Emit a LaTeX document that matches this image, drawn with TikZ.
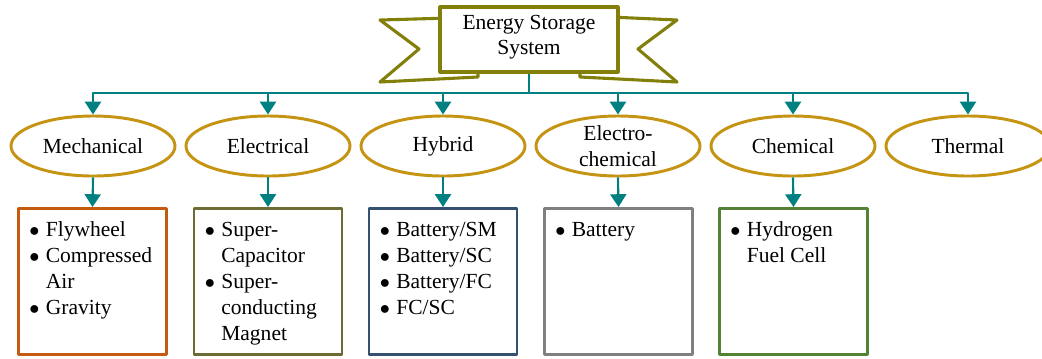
\documentclass[tikz,border=0pt]{standalone}
\usepackage{fontspec}
\setmainfont{Liberation Serif}
\usepackage{tikz}
\usetikzlibrary{arrows.meta, shapes.geometric}

\definecolor{bannerOl}{RGB}{130,128,10}
\definecolor{catGold}{RGB}{196,148,18}
\definecolor{linkTeal}{RGB}{0,128,128}
\definecolor{mechCol}{RGB}{197,90,17}
\definecolor{elecCol}{RGB}{108,108,52}
\definecolor{hybCol}{RGB}{52,82,112}
\definecolor{echemCol}{RGB}{128,128,128}
\definecolor{chemCol}{RGB}{84,130,53}

\newcommand{\bul}{$\bullet$}

\begin{document}
\begin{tikzpicture}[x=0.025cm, y=-0.025cm, line join=round,
    >={Triangle[width=0.4cm, length=0.32cm]},
    font=\fontsize{15.3}{18.4}\selectfont,
    banner/.style={draw=bannerOl, line width=2.2pt, fill=white},
    cat/.style={ellipse, draw=catGold, line width=2.1pt, minimum width=4.1cm,
      minimum height=1.5cm, inner sep=0pt, align=center},
    listbox/.style={draw, line width=2.1pt, anchor=north, inner xsep=0.27cm, inner ysep=0.25cm},
    link/.style={->, draw=linkTeal, line width=1.5pt}]

  % Page frame (reference size in px)
  \useasboundingbox (0,0) rectangle (1042,358);

  % Banner tails (drawn first, title box goes on top)
  \draw[banner] (380,20) -- (450,18) -- (450,72) -- (478,72) -- (478,77)
    -- (380,82) -- (419,49) -- cycle;
  \draw[banner] (677,20) -- (610,17) -- (610,72) -- (580,72) -- (580,77)
    -- (677,82) -- (638,49) -- cycle;

  % Title
  \node[banner, minimum width=4.45cm, minimum height=1.625cm, inner sep=0pt,
    align=center, text depth=0.23cm] (ess) at (529,39.5) {Energy Storage\\System};

  % Categories
  \node[cat] (mech)  at (93,146)  {Mechanical};
  \node[cat] (elec)  at (268,146) {Electrical};
  \node[cat] (hyb)   at (443,146) {Hybrid};
  \node[cat] (echem) at (618,146) {Electro-\\chemical};
  \node[cat] (chem)  at (793,146) {Chemical};
  \node[cat] (therm) at (968,146) {Thermal};

  % Bus from the title to every category
  \coordinate (bus) at (529,93);
  \draw[draw=linkTeal, line width=1.5pt] (ess.south) -- (bus);
  \foreach \nm in {mech,elec,hyb,echem,chem,therm}
    \draw[link] (bus) -| (\nm.north);

  % Examples of each category
  \node[listbox, draw=mechCol] (mechbox) at (92.5,207) {\parbox[t][3.15cm][t]{3.16cm}{%
    \begin{tabular}[t]{@{}l@{\hspace{0.16cm}}l@{}}
      \bul & Flywheel\\
      \bul & Compressed\\
           & Air\\
      \bul & Gravity
    \end{tabular}}};
  \node[listbox, draw=elecCol] (elecbox) at (268,207) {\parbox[t][3.15cm][t]{3.16cm}{%
    \begin{tabular}[t]{@{}l@{\hspace{0.16cm}}l@{}}
      \bul & Super-\\
           & Capacitor\\
      \bul & Super-\\
           & conducting\\
           & Magnet
    \end{tabular}}};
  \node[listbox, draw=hybCol] (hybbox) at (443,207) {\parbox[t][3.15cm][t]{3.16cm}{%
    \begin{tabular}[t]{@{}l@{\hspace{0.16cm}}l@{}}
      \bul & Battery/SM\\
      \bul & Battery/SC\\
      \bul & Battery/FC\\
      \bul & FC/SC
    \end{tabular}}};
  \node[listbox, draw=echemCol] (echembox) at (618.5,207) {\parbox[t][3.15cm][t]{3.16cm}{%
    \begin{tabular}[t]{@{}l@{\hspace{0.16cm}}l@{}}
      \bul & Battery
    \end{tabular}}};
  \node[listbox, draw=chemCol] (chembox) at (793.5,207) {\parbox[t][3.15cm][t]{3.16cm}{%
    \begin{tabular}[t]{@{}l@{\hspace{0.16cm}}l@{}}
      \bul & Hydrogen\\
           & Fuel Cell
    \end{tabular}}};

  % Category -> examples
  \foreach \nm in {mech,elec,hyb,echem,chem}
    \draw[link] (\nm.south) -- (\nm box.north);

\end{tikzpicture}
\end{document}
